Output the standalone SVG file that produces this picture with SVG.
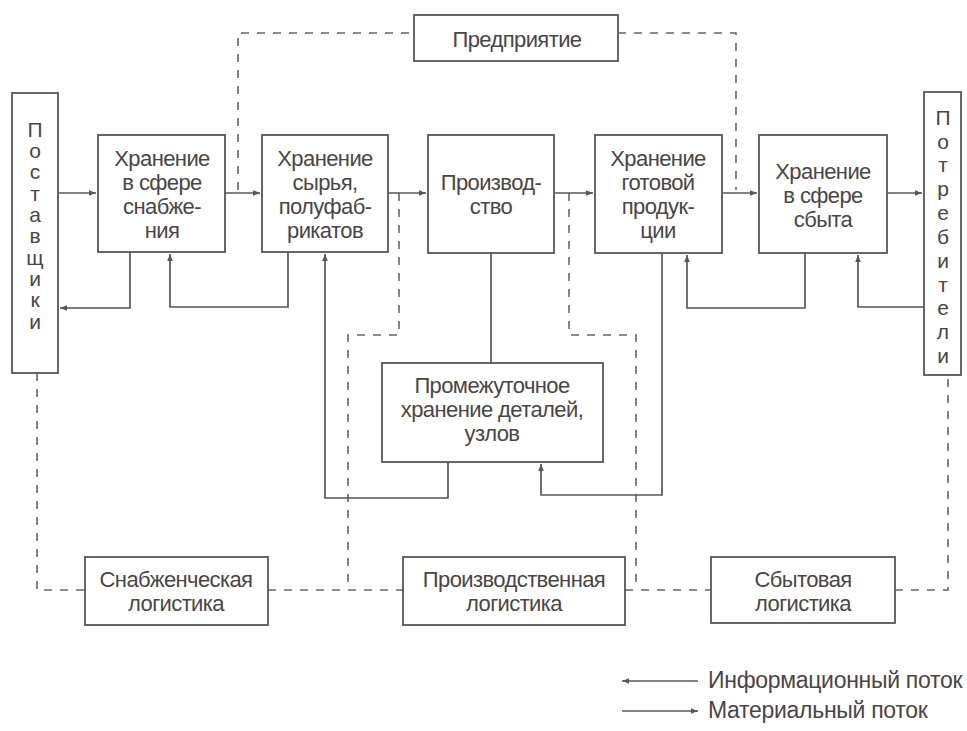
<svg xmlns="http://www.w3.org/2000/svg" width="967" height="731" viewBox="0 0 967 731">
<style>
.box{fill:#fff;stroke:#5c5456;stroke-width:1.8}
.t{font-family:"Liberation Sans",Arial,sans-serif;font-size:22px;fill:#4a4547;letter-spacing:-0.6px;text-anchor:middle}
.v{font-family:"Liberation Sans",Arial,sans-serif;font-size:21px;fill:#4a4547;text-anchor:middle}
.lg{font-family:"Liberation Sans",Arial,sans-serif;font-size:23px;fill:#4a4547;letter-spacing:-0.3px}
.s{fill:none;stroke:#5c5456;stroke-width:1.7}
.d{fill:none;stroke:#6a6264;stroke-width:1.6;stroke-dasharray:8 8}
</style>
<defs>
<marker id="ah" viewBox="0 0 10 10" refX="10" refY="5" markerWidth="9" markerHeight="7" markerUnits="userSpaceOnUse" orient="auto">
<path d="M0,1 L10,5 L0,9 z" fill="#5c5456"/>
</marker>
</defs>
<rect width="967" height="731" fill="#fff"/>

<g id="connectors">
<path class="d" d="M238,190 V33 H414"/>
<path class="d" d="M618,33 H736 V190"/>
<path class="d" d="M399,193 V335 H348 V590"/>
<path class="d" d="M569,193 V335 H636 V590"/>
<path class="d" d="M37,373 V590 H85"/>
<path class="d" d="M268,590 H403"/>
<path class="d" d="M625,590 H711"/>
<path class="d" d="M895,590 H948 V375"/>
<path class="s" d="M58,193 H96" marker-end="url(#ah)"/>
<path class="s" d="M225,193 H260" marker-end="url(#ah)"/>
<path class="s" d="M388,193 H426" marker-end="url(#ah)"/>
<path class="s" d="M554,193 H593" marker-end="url(#ah)"/>
<path class="s" d="M722,193 H757" marker-end="url(#ah)"/>
<path class="s" d="M887,193 H922" marker-end="url(#ah)"/>
<path class="s" d="M130,252 V308 H60" marker-end="url(#ah)"/>
<path class="s" d="M288,252 V307 H170 V254" marker-end="url(#ah)"/>
<path class="s" d="M448,462 V498 H325 V254" marker-end="url(#ah)"/>
<path class="s" d="M491,253 V363"/>
<path class="s" d="M662,253 V495 H541 V464" marker-end="url(#ah)"/>
<path class="s" d="M805,253 V308 H687 V255" marker-end="url(#ah)"/>
<path class="s" d="M924,307 H858 V255" marker-end="url(#ah)"/>
</g>

<g id="postavshchiki">
<rect class="box" x="12" y="93" width="46" height="280"/>
<text class="v"><tspan x="35" y="137">П</tspan><tspan x="35" y="158">о</tspan><tspan x="35" y="179">с</tspan><tspan x="35" y="201">т</tspan><tspan x="35" y="222">а</tspan><tspan x="35" y="243">в</tspan><tspan x="35" y="265">щ</tspan><tspan x="35" y="286">и</tspan><tspan x="35" y="307">к</tspan><tspan x="35" y="329">и</tspan></text>
</g>

<g id="potrebiteli">
<rect class="box" x="924" y="92" width="37" height="283"/>
<text class="v"><tspan x="943" y="125">П</tspan><tspan x="943" y="149">о</tspan><tspan x="943" y="172">т</tspan><tspan x="943" y="196">р</tspan><tspan x="943" y="220">е</tspan><tspan x="943" y="244">б</tspan><tspan x="943" y="268">и</tspan><tspan x="943" y="292">т</tspan><tspan x="943" y="315">е</tspan><tspan x="943" y="339">л</tspan><tspan x="943" y="363">и</tspan></text>
</g>

<g id="predpriyatie">
<rect class="box" x="414" y="15" width="204" height="46"/>
<text class="t" x="517" y="47">Предприятие</text>
</g>

<g id="hranenie-snabzhenie">
<rect class="box" x="98" y="135" width="127" height="117"/>
<text class="t"><tspan x="162" y="166">Хранение</tspan><tspan x="162" y="190">в сфере</tspan><tspan x="162" y="214">снабже-</tspan><tspan x="162" y="238">ния</tspan></text>
</g>

<g id="hranenie-syrya">
<rect class="box" x="262" y="135" width="126" height="117"/>
<text class="t"><tspan x="325" y="166">Хранение</tspan><tspan x="325" y="190">сырья,</tspan><tspan x="325" y="214">полуфаб-</tspan><tspan x="325" y="238">рикатов</tspan></text>
</g>

<g id="proizvodstvo">
<rect class="box" x="428" y="135" width="126" height="118"/>
<text class="t"><tspan x="491" y="190">Производ-</tspan><tspan x="491" y="214">ство</tspan></text>
</g>

<g id="hranenie-gotovoy">
<rect class="box" x="595" y="135" width="127" height="118"/>
<text class="t"><tspan x="658" y="166">Хранение</tspan><tspan x="658" y="190">готовой</tspan><tspan x="658" y="214">продук-</tspan><tspan x="658" y="238">ции</tspan></text>
</g>

<g id="hranenie-sbyt">
<rect class="box" x="759" y="135" width="128" height="118"/>
<text class="t"><tspan x="823" y="179">Хранение</tspan><tspan x="823" y="203">в сфере</tspan><tspan x="823" y="227">сбыта</tspan></text>
</g>

<g id="promezhutochnoe">
<rect class="box" x="382" y="363" width="221" height="99"/>
<text class="t"><tspan x="492" y="393">Промежуточное</tspan><tspan x="492" y="417">хранение деталей,</tspan><tspan x="492" y="441">узлов</tspan></text>
</g>

<g id="snabzhencheskaya">
<rect class="box" x="85" y="557" width="183" height="68"/>
<text class="t"><tspan x="176" y="587">Снабженческая</tspan><tspan x="176" y="611">логистика</tspan></text>
</g>

<g id="proizvodstvennaya">
<rect class="box" x="403" y="557" width="222" height="68"/>
<text class="t"><tspan x="514" y="587">Производственная</tspan><tspan x="514" y="611">логистика</tspan></text>
</g>

<g id="sbytovaya">
<rect class="box" x="711" y="557" width="184" height="66"/>
<text class="t"><tspan x="803" y="587">Сбытовая</tspan><tspan x="803" y="611">логистика</tspan></text>
</g>

<g id="legend">
<path class="s" d="M698,681 H622" marker-end="url(#ah)"/>
<text class="lg" x="708" y="688">Информационный поток</text>
<path class="s" d="M622,711 H698" marker-end="url(#ah)"/>
<text class="lg" x="708" y="718">Материальный поток</text>
</g>
</svg>
